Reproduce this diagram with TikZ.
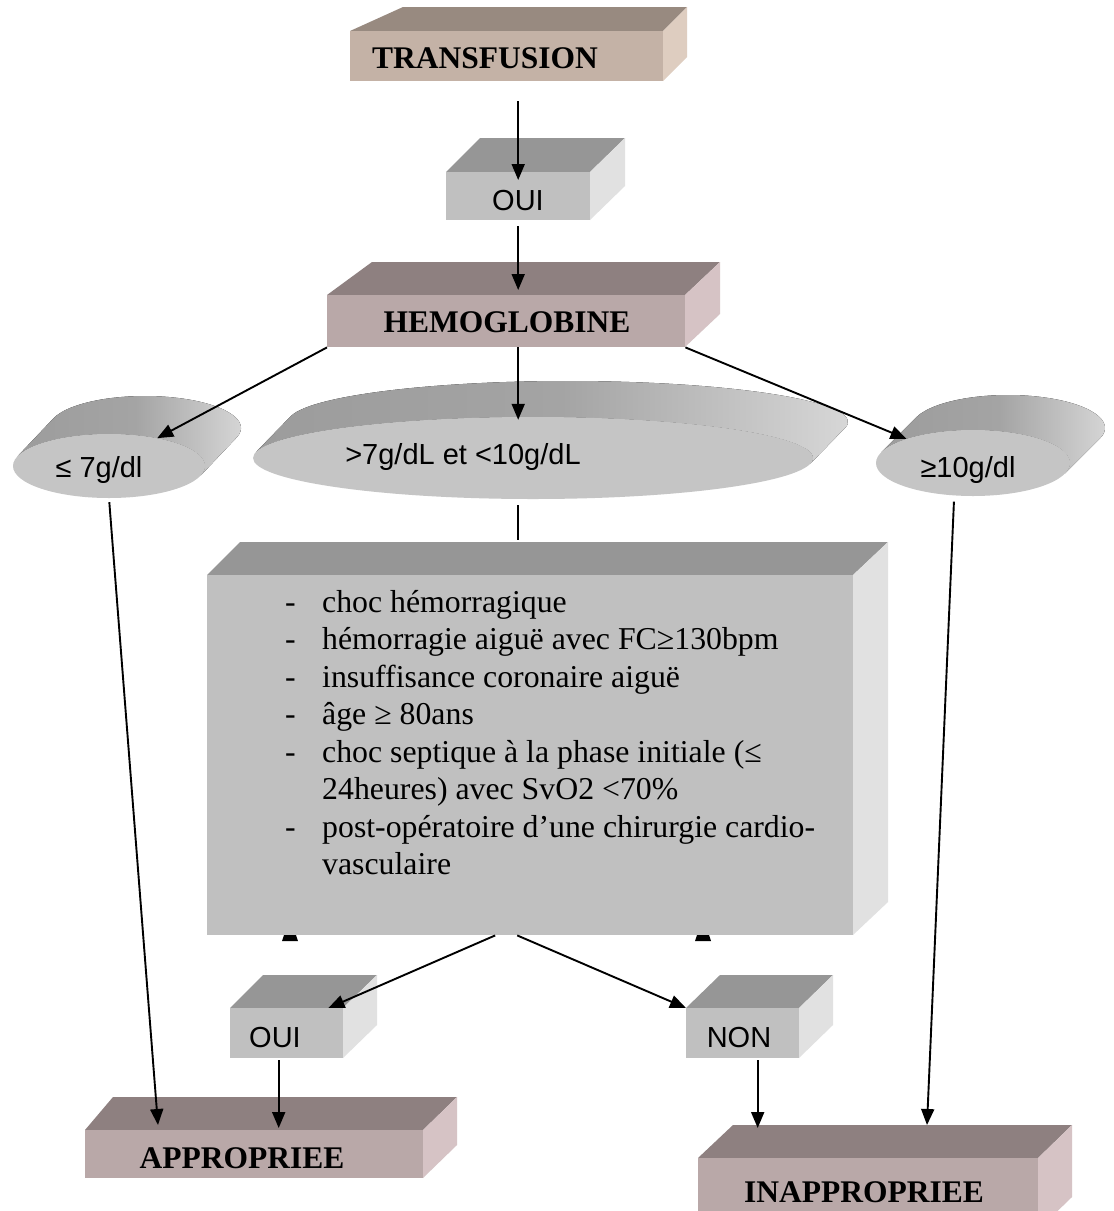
\documentclass[tikz,border=0pt]{standalone}
\usepackage{fontspec}
\setmainfont{Liberation Serif}
\newfontfamily\arialfont{Liberation Sans}
\usepackage{xcolor}
\usepackage{tikz}
\usetikzlibrary{arrows.meta}
\usetikzlibrary{shapes.geometric}

\definecolor{tanfront}{RGB}{196,178,166}
\definecolor{tantop}{RGB}{152,138,128}
\definecolor{tanside}{RGB}{222,205,192}
\definecolor{rosefront}{RGB}{185,168,168}
\definecolor{rosetop}{RGB}{142,128,128}
\definecolor{roseside}{RGB}{214,195,197}
\definecolor{grisfront}{RGB}{192,192,192}
\definecolor{gristop}{RGB}{150,150,150}
\definecolor{grisside}{RGB}{225,225,225}
\definecolor{disqueface}{RGB}{197,197,197}
\definecolor{disquefonce}{RGB}{156,156,156}
\definecolor{disquemilieu}{RGB}{164,164,164}
\definecolor{disqueclair}{RGB}{218,218,218}

\tikzset{
	fleche/.style={-{Triangle[length=16pt,width=13pt]}, line width=1.9pt},
	titre/.style={font=\fontsize{31.5}{36}\selectfont\bfseries, inner sep=0pt, anchor=base},
	etiq/.style={font=\arialfont\fontsize{29}{34}\selectfont, inner sep=0pt, anchor=base},
	puce/.style={font=\fontsize{31.8}{37}\selectfont, inner sep=0pt, anchor=base west},
	face/.style={inner sep=0pt, anchor=north west},
	disc/.style={ellipse, fill=disqueface, inner sep=0pt},
}

\begin{document}
\begin{tikzpicture}[x=1pt, y=-1pt]
		% boite 3D : nom, x1, y1, x2, y2, decalage gauche, decalage droite, profondeur, teinte
		\def\pave#1#2#3#4#5#6#7#8#9{%
			\fill[#9top] (#2,#3) -- (#2+#6,#3-#8) -- (#4+#7,#3-#8) -- (#4,#3) -- cycle;
			\fill[#9side] (#4,#3) -- (#4+#7,#3-#8) -- (#4+#7,#5-#8) -- (#4,#5) -- cycle;
			\node[face, fill=#9front, minimum width={(#4-#2)*1pt}, minimum height={(#5-#3)*1pt}] (#1) at (#2,#3) {};
		}
		% disque 3D : nom, cx, cy, rx, ry, dx, dy
		\def\disque#1#2#3#4#5#6#7{%
			\pgfmathsetmacro\tz{atan((#5*#6)/(#4*#7))}
			\fill[left color=disquefonce, right color=disqueclair, middle color=disquemilieu]
				({#2+#4*cos(\tz)},{#3+#5*sin(\tz)}) -- ++(#6,-#7)
				arc[start angle=\tz, end angle=\tz-180, x radius=#4, y radius=#5] -- ++(-#6,#7)
				arc[start angle=\tz-180, end angle=\tz, x radius=#4, y radius=#5] -- cycle;
			\node[disc, minimum width={2*#4*1pt}, minimum height={2*#5*1pt}] (#1) at (#2,#3) {};
		}
		\useasboundingbox (0,0) rectangle (1114,1211);
		\clip (0,0) rectangle (1114,1211);
		\fill[white] (0,0) rectangle (1114,1211);

		% boites
		\pave{tr}{350}{31}{663}{81}{53}{24}{24}{tan}
		\pave{oui}{446}{172}{590}{220}{34}{35}{34}{gris}
		\pave{hb}{327}{295}{685}{347}{45}{35}{33}{rose}
		\pave{crit}{207}{575}{853}{935}{33}{35}{33}{gris}
		\pave{ouib}{230}{1008}{343}{1058}{33}{34}{33}{gris}
		\pave{non}{686}{1008}{799}{1058}{34}{34}{33}{gris}
		\pave{app}{85}{1130}{423}{1178}{28}{34}{33}{rose}
		\pave{inapp}{698}{1158}{1038}{1230}{35}{34}{33}{rose}

		% disques
		\disque{dlow}{109}{466}{96}{32}{36}{38}
		\disque{dmid}{533}{458}{280}{41}{35}{36}
		\disque{dhigh}{973}{463}{97}{33}{35}{35}

		% textes
		\node[titre] (ttr) at (485,68) {TRANSFUSION};
		\node[titre] (thb) at (507,332) {HEMOGLOBINE};
		\node[titre] (tapp) at (242,1168) {APPROPRIEE};
		\node[titre] (tinapp) at (864,1202) {INAPPROPRIEE};
		\node[etiq] (toui) at (518,210) {OUI};
		\node[etiq] (tdlow) at (99,477) {≤ 7g/dl};
		\node[etiq] (tdmid) at (463,464) {>7g/dL et <10g/dL};
		\node[etiq] (tdhigh) at (968,477) {≥10g/dl};
		\node[etiq] (touib) at (275,1047) {OUI};
		\node[etiq] (tnon) at (739,1047) {NON};

		\foreach \txt/\tiret [count=\k] in {{choc hémorragique}/-,
				{hémorragie aiguë avec FC≥130bpm}/-,
				{insuffisance coronaire aiguë}/-,
				{âge ≥ 80ans}/-,
				{choc septique à la phase initiale (≤}/-,
				{24heures) avec SvO2 <70\%}/{},
				{post-opératoire d’une chirurgie cardio-}/-,
				{vasculaire}/{}}
		{
			\node[puce] (tir\k) at (285,{612+37.5*(\k-1)}) {\tiret};
			\node[puce] (lig\k) at (322,{612+37.5*(\k-1)}) {\txt};
		}

		% petites marques sous le cadre
		\fill (282,941) -- (298,941) -- (296,935) -- (284,935) -- cycle;
		\fill (695,941) -- (711,941) -- (709,935) -- (697,935) -- cycle;

		% fleches
		\coordinate (ouibpied) at ([xshift=-8pt]ouib.south);
		\coordinate (nonpied) at ([xshift=15pt]non.south);
		\draw[fleche, shorten <=20pt, shorten >=-8pt] (tr.south -| oui.north) -- (oui.north);
		\draw[fleche, shorten <=6pt, shorten >=5pt] (oui.south) -- (oui.south |- hb.north);
		\draw[fleche] (hb.south west) -- (dlow.30);
		\draw[fleche, shorten >=-3pt] (oui.south |- hb.south) -- (oui.south |- dmid.north);
		\draw[fleche] (hb.south east) -- (dhigh.160);
		\draw[line width=1.9pt, shorten <=6pt, shorten >=35pt] (oui.south |- dmid.south) -- (oui.south |- crit.north);
		\draw[fleche, shorten <=4pt] (dlow.south) -- ([xshift=73pt,yshift=5pt]app.north west);
		\draw[fleche, shorten <=6pt] (dhigh.-120) -- ([xshift=229pt,yshift=33pt]inapp.north west);
		\draw[fleche] ([xshift=-35pt]crit.south) -- ([xshift=-15pt]ouib.north east);
		\draw[fleche] ([xshift=-13pt]crit.south) -- (non.north west);
		\draw[fleche, shorten <=2pt, shorten >=2pt] (ouibpied) -- (ouibpied |- app.north);
		\draw[fleche, shorten <=2pt, shorten >=30pt] (nonpied) -- (nonpied |- inapp.north);
	\end{tikzpicture}
\end{document}
